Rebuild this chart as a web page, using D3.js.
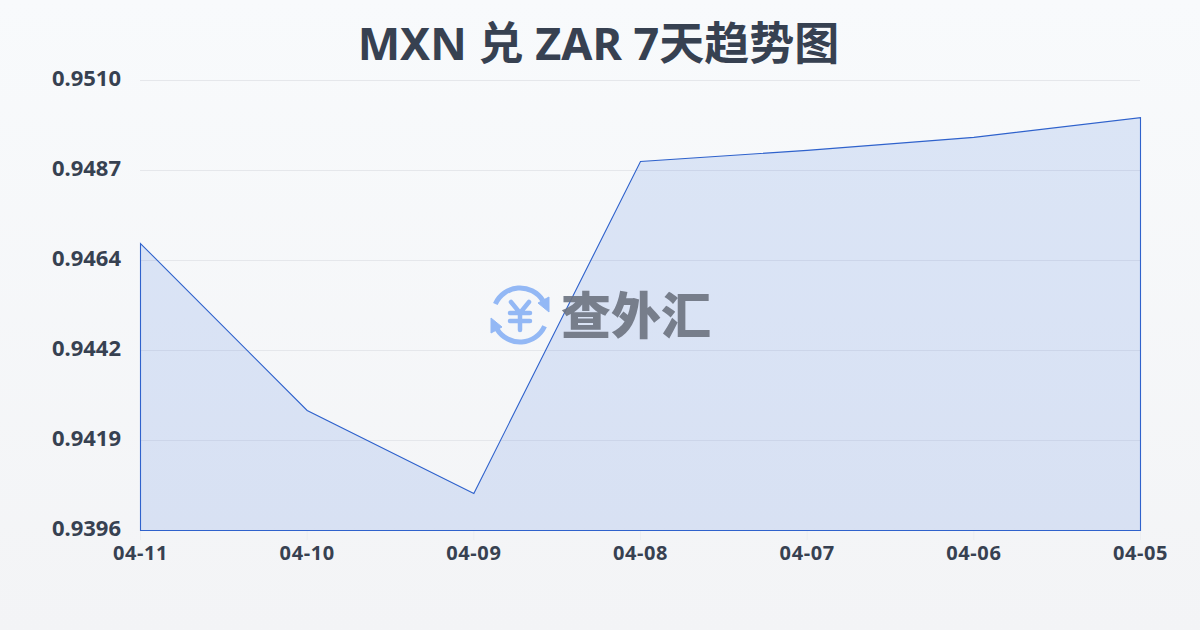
<!DOCTYPE html>
<html>
<head>
<meta charset="utf-8">
<style>
  html, body { margin: 0; padding: 0; }
  body { width: 1200px; height: 630px; overflow: hidden; }
  text { font-family: "Noto Sans", "Noto Sans CJK SC", sans-serif; }
  .domain { display: none; }
</style>
</head>
<body>
<svg id="chart" width="1200" height="630"></svg>
<script src="https://d3js.org/d3.v7.min.js"></script>
<script>
var dates = ['04-11', '04-10', '04-09', '04-08', '04-07', '04-06', '04-05'];
var rates = [0.94687, 0.94264, 0.94054, 0.94895, 0.94923, 0.94956, 0.95006];
var yTicks = [0.9396, 0.94188, 0.94416, 0.94644, 0.94872, 0.9510];
var yTickLabels = ['0.9396', '0.9419', '0.9442', '0.9464', '0.9487', '0.9510'];
var titleText = 'MXN 兑 ZAR 7天趋势图';
var watermarkText = '查外汇';

var svg = d3.select('#chart');

// page background
var defs = svg.append('defs');
var bg = defs.append('linearGradient')
  .attr('id', 'bg')
  .attr('x1', 0).attr('y1', 0)
  .attr('x2', 0).attr('y2', 1);
bg.append('stop').attr('offset', '0%').attr('stop-color', '#f8fafc');
bg.append('stop').attr('offset', '100%').attr('stop-color', '#f3f4f6');
svg.append('rect').attr('width', 1200).attr('height', 630).attr('fill', 'url(#bg)');

var x = d3.scalePoint().domain(dates).range([140, 1140]);
var y = d3.scaleLinear().domain([0.9396, 0.9510]).range([530, 80]);

svg.append('text')
  .attr('x', 598.5).attr('y', 60)
  .attr('text-anchor', 'middle')
  .attr('fill', '#374151')
  .style('font-size', '45px')
  .style('font-weight', 700)
  .text(titleText);

// y axis + gridlines (d3 axis adds the half pixel itself)
var yAxis = svg.append('g')
  .attr('transform', 'translate(140,0)')
  .call(d3.axisLeft(y)
    .tickValues(yTicks)
    .tickFormat(function(d, i) { return yTickLabels[i]; })
    .tickSize(-1000)
    .tickPadding(19));
yAxis.selectAll('.tick line').attr('stroke', '#e5e7eb').attr('stroke-width', 1);
yAxis.selectAll('.tick text')
  .attr('fill', '#374151')
  .attr('dy', '0.24em')
  .style('font-size', '22px')
  .style('font-weight', 700);

// x axis
var xAxis = svg.append('g')
  .attr('transform', 'translate(0,530)')
  .call(d3.axisBottom(x).tickSize(10).tickPadding(6));
xAxis.selectAll('.tick line').attr('stroke', '#eceef1');
xAxis.selectAll('.tick text')
  .attr('fill', '#374151')
  .style('font-size', '20px')
  .style('font-weight', 700)
  .style('letter-spacing', '0.6px');

// area + line
var area = d3.area()
  .x(function(d, i) { return x(dates[i]); })
  .y0(y(0.9396))
  .y1(function(d) { return y(d); });

svg.append('path')
  .attr('d', area(rates))
  .attr('transform', 'translate(0.5,0.5)')
  .attr('fill', '#3b6fe0')
  .attr('fill-opacity', 0.15)
  .attr('stroke', '#2f62cc')
  .attr('stroke-width', 1.1);

// watermark
var mark = svg.append('g').attr('transform', 'translate(520,315)');
mark.append('g').attr('fill', 'none').attr('stroke', '#93b8f5').attr('stroke-width', 5).attr('stroke-linecap', 'round')
  .call(function(g) {
    g.append('path').attr('d', d3.arc()({innerRadius: 27, outerRadius: 27, startAngle: -1.15, endAngle: 1.0}));
    g.append('path').attr('d', d3.arc()({innerRadius: 27, outerRadius: 27, startAngle: 2.0, endAngle: 4.15}));
  });
mark.append('path').attr('d', 'M18,-12 L29,-3 L29,-18 Z').attr('fill', '#93b8f5').attr('stroke', '#93b8f5').attr('stroke-width', 1);
mark.append('path').attr('d', 'M-18,12 L-29,3 L-29,18 Z').attr('fill', '#93b8f5').attr('stroke', '#93b8f5').attr('stroke-width', 1);
mark.append('path')
  .attr('d', 'M-9,-13 L0,-2 L9,-13 M-10,-2 H10 M-10,6 H10 M0,-2 V15')
  .attr('fill', 'none').attr('stroke', '#93b8f5').attr('stroke-width', 4.5).attr('stroke-linecap', 'round');

svg.append('text')
  .attr('x', 636).attr('y', 334)
  .attr('text-anchor', 'middle')
  .attr('fill', '#6b7280')
  .attr('fill-opacity', 0.9)
  .style('font-size', '50px')
  .style('font-weight', 900)
  .text(watermarkText);
</script>
</body>
</html>
